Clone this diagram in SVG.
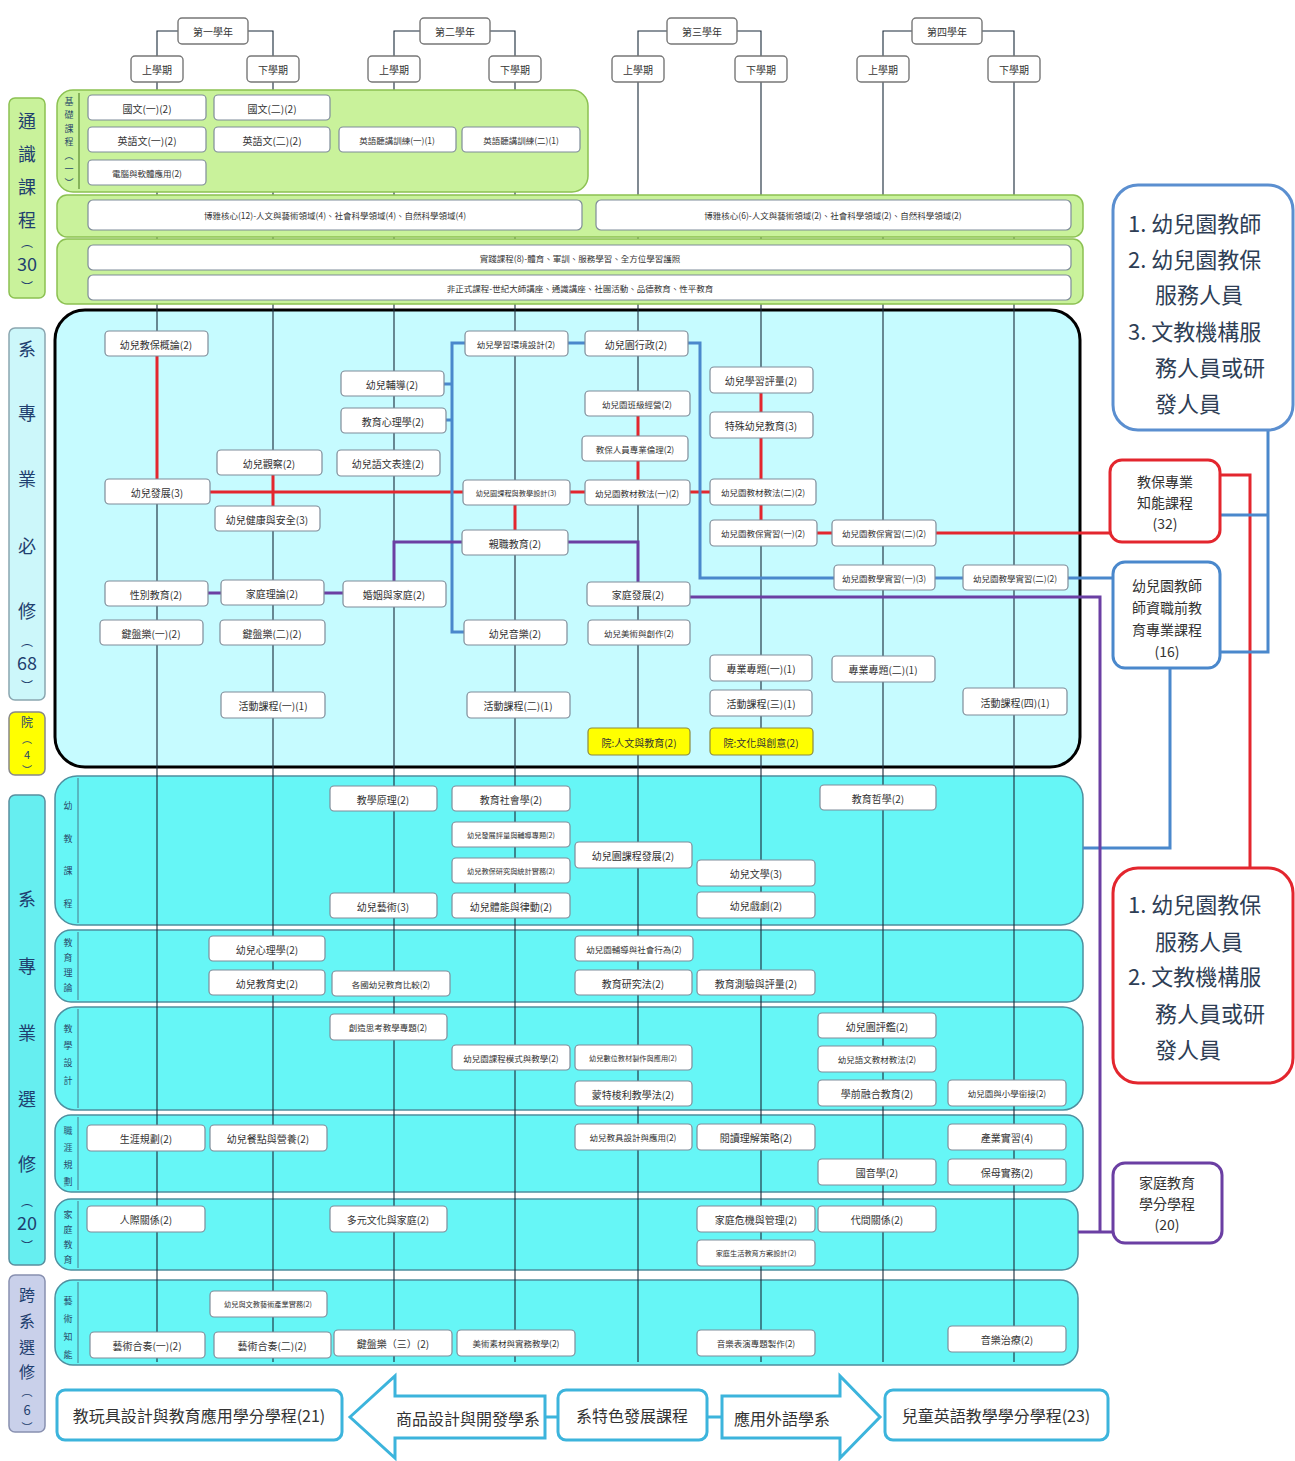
<svg xmlns="http://www.w3.org/2000/svg" width="1295" height="1461" viewBox="0 0 1295 1461">
<defs>
<style>
text{font-family:"Noto Sans CJK TC","Noto Sans CJK SC",sans-serif;fill:#333;text-anchor:middle;dominant-baseline:central}
.n rect{fill:#fff;stroke:#7f8c99;stroke-width:1.2}
.h rect{fill:#fff;stroke:#777;stroke-width:1.4}
.y rect{fill:#ffff00;stroke:#8a8a40;stroke-width:1.2}
.n text,.h text,.y text{font-size:10px}
.s{font-size:8.5px !important}
.xs{font-size:7.2px !important}
.vl{stroke:#1a2a3a;stroke-width:1.1;fill:none}
.gr{fill:#c9f29b;stroke:#8cc152;stroke-width:1.5}
.el{fill:#66f6f6;stroke:#4f8f9f;stroke-width:1.5}
.lbl{font-size:18px;fill:#1f3f6f}
.br{font-size:12px;fill:#1f3f6f}
.gl{font-size:9px;fill:#2a4a6a}
.red{stroke:#e3262e;stroke-width:3;fill:none}
.blue{stroke:#4a88cc;stroke-width:3;fill:none}
.pur{stroke:#6b3fa3;stroke-width:3;fill:none}
.big{font-size:22px;fill:#2e3e55;text-anchor:start}
.mid{font-size:14px;fill:#333}
.bt{font-size:16px;fill:#333}
.bb{fill:#fff;stroke:#3cb4dc;stroke-width:3}
</style>
</defs>
<rect width="1295" height="1461" fill="#fff"/>

<!-- left labels -->
<g id="label-general">
<rect x="9" y="98" width="36" height="200" rx="6" fill="#c9f29b" stroke="#8cc152" stroke-width="1.5"/>
<text class="lbl" x="27" y="120">通</text><text class="lbl" x="27" y="153">識</text><text class="lbl" x="27" y="186">課</text><text class="lbl" x="27" y="219">程</text><text class="br" x="27" y="241">︵</text><text class="lbl" x="27" y="263">30</text><text class="br" x="27" y="286">︶</text>
</g>
<g id="label-required">
<rect x="9" y="328" width="36" height="372" rx="6" fill="#ccf7fa" stroke="#8aa6b0" stroke-width="1.5"/>
<text class="lbl" x="27" y="348">系</text><text class="lbl" x="27" y="412">專</text><text class="lbl" x="27" y="478">業</text><text class="lbl" x="27" y="545">必</text><text class="lbl" x="27" y="610">修</text><text class="br" x="27" y="640">︵</text><text class="lbl" x="27" y="662">68</text><text class="br" x="27" y="685">︶</text>
</g>
<g id="label-college">
<rect x="9" y="712" width="36" height="63" rx="6" fill="#ffff00" stroke="#888" stroke-width="1.5"/>
<text class="lbl" style="font-size:12px" x="27" y="721">院</text><text class="br" style="font-size:10px" x="27" y="738">︵</text><text class="lbl" style="font-size:11px" x="27" y="753.5">4</text><text class="br" style="font-size:10px" x="27" y="769">︶</text>
</g>
<g id="label-elective">
<rect x="9" y="795" width="36" height="470" rx="6" fill="#66eef0" stroke="#5a8e9e" stroke-width="1.5"/>
<text class="lbl" x="27" y="898">系</text><text class="lbl" x="27" y="965">專</text><text class="lbl" x="27" y="1032">業</text><text class="lbl" x="27" y="1098">選</text><text class="lbl" x="27" y="1163">修</text><text class="br" x="27" y="1200">︵</text><text class="lbl" x="27" y="1222">20</text><text class="br" x="27" y="1245">︶</text>
</g>
<g id="label-cross">
<rect x="9" y="1275" width="36" height="157" rx="6" fill="#c9d0ea" stroke="#8890b0" stroke-width="1.5"/>
<text class="lbl" style="font-size:16px" x="27" y="1294">跨</text><text class="lbl" style="font-size:16px" x="27" y="1320">系</text><text class="lbl" style="font-size:16px" x="27" y="1346">選</text><text class="lbl" style="font-size:16px" x="27" y="1371">修</text><text class="br" style="font-size:11px" x="27" y="1391">︵</text><text class="lbl" style="font-size:13px" x="27" y="1409">6</text><text class="br" style="font-size:11px" x="27" y="1427">︶</text>
</g>

<!-- backgrounds: core and electives -->
<g id="core-box"><rect x="55" y="310" width="1025" height="457" rx="30" fill="#c6fbff" stroke="#000" stroke-width="3"/></g>
<g id="elective-groups">
<rect class="el" x="55" y="776" width="1028" height="149" rx="22"/>
<rect class="el" x="55" y="930" width="1028" height="72" rx="16"/>
<rect class="el" x="55" y="1007" width="1028" height="103" rx="20"/>
<rect class="el" x="55" y="1115" width="1028" height="77" rx="16"/>
<rect class="el" x="55" y="1199" width="1023" height="71" rx="16"/>
<rect class="el" x="55" y="1280" width="1023" height="85" rx="18"/>
<path d="M78,778V923M78,932V1000M78,1009V1108M78,1117V1190M78,1201V1268M78,1282V1363" stroke="#4f8f9f" stroke-width="1.2"/>
<text class="gl" x="68" y="805">幼</text><text class="gl" x="68" y="838">教</text><text class="gl" x="68" y="870">課</text><text class="gl" x="68" y="903">程</text>
<text class="gl" x="68" y="942">教</text><text class="gl" x="68" y="957">育</text><text class="gl" x="68" y="972">理</text><text class="gl" x="68" y="987">論</text>
<text class="gl" x="68" y="1028">教</text><text class="gl" x="68" y="1045">學</text><text class="gl" x="68" y="1062">設</text><text class="gl" x="68" y="1080">計</text>
<text class="gl" x="68" y="1130">職</text><text class="gl" x="68" y="1147">涯</text><text class="gl" x="68" y="1164">規</text><text class="gl" x="68" y="1181">劃</text>
<text class="gl" x="68" y="1214">家</text><text class="gl" x="68" y="1229">庭</text><text class="gl" x="68" y="1244">教</text><text class="gl" x="68" y="1259">育</text>
<text class="gl" x="68" y="1300">藝</text><text class="gl" x="68" y="1318">術</text><text class="gl" x="68" y="1336">知</text><text class="gl" x="68" y="1354">能</text>
</g>

<!-- timeline lines -->
<g id="timeline" class="vl">
<path d="M157,82V1362M273,82V1362M394,82V1362M515,82V1362M638,82V1362M761,82V1362M883,82V1362M1014,82V1362"/>
<path d="M178,31H157V56M248,31H273V56M420,31H394V56M490,31H515V56M667,31H638V56M737,31H761V56M912,31H883V56M982,31H1014V56"/>
</g>

<!-- general education groups -->
<g id="general-groups">
<rect class="gr" x="57" y="90" width="531" height="102" rx="16"/>
<path d="M79,93V189" stroke="#5a8a30" stroke-width="1.2"/>
<text class="gl" x="69" y="101">基</text><text class="gl" x="69" y="114.5">礎</text><text class="gl" x="69" y="128">課</text><text class="gl" x="69" y="141.5">程</text><text class="gl" x="69" y="155">︵</text><text class="gl" x="69" y="168.5">一</text><text class="gl" x="69" y="182">︶</text>
<rect class="gr" x="57" y="195" width="1026" height="42" rx="10"/>
<rect class="gr" x="57" y="239" width="1026" height="65" rx="10"/>
</g>

<!-- header nodes -->
<g id="y1" class="h"><rect x="178" y="18" width="70" height="26" rx="4"/><text x="213" y="31">第一學年</text></g>
<g id="y2" class="h"><rect x="420" y="18" width="70" height="26" rx="4"/><text x="455" y="31">第二學年</text></g>
<g id="y3" class="h"><rect x="667" y="18" width="70" height="26" rx="4"/><text x="702" y="31">第三學年</text></g>
<g id="y4" class="h"><rect x="912" y="18" width="70" height="26" rx="4"/><text x="947" y="31">第四學年</text></g>
<g id="s11" class="h"><rect x="131" y="56" width="52" height="26" rx="4"/><text x="157" y="69">上學期</text></g>
<g id="s12" class="h"><rect x="247" y="56" width="52" height="26" rx="4"/><text x="273" y="69">下學期</text></g>
<g id="s21" class="h"><rect x="368" y="56" width="52" height="26" rx="4"/><text x="394" y="69">上學期</text></g>
<g id="s22" class="h"><rect x="489" y="56" width="52" height="26" rx="4"/><text x="515" y="69">下學期</text></g>
<g id="s31" class="h"><rect x="612" y="56" width="52" height="26" rx="4"/><text x="638" y="69">上學期</text></g>
<g id="s32" class="h"><rect x="735" y="56" width="52" height="26" rx="4"/><text x="761" y="69">下學期</text></g>
<g id="s41" class="h"><rect x="857" y="56" width="52" height="26" rx="4"/><text x="883" y="69">上學期</text></g>
<g id="s42" class="h"><rect x="988" y="56" width="52" height="26" rx="4"/><text x="1014" y="69">下學期</text></g>

<!-- general nodes -->
<g id="g1" class="n"><rect x="88" y="95" width="118" height="25" rx="4"/><text x="147" y="108">國文(一)(2)</text></g>
<g id="g2" class="n"><rect x="214" y="95" width="116" height="25" rx="4"/><text x="272" y="108">國文(二)(2)</text></g>
<g id="g3" class="n"><rect x="88" y="127" width="118" height="25" rx="4"/><text x="147" y="140">英語文(一)(2)</text></g>
<g id="g4" class="n"><rect x="214" y="127" width="116" height="25" rx="4"/><text x="272" y="140">英語文(二)(2)</text></g>
<g id="g5" class="n"><rect x="339" y="127" width="117" height="25" rx="4"/><text class="s" x="397" y="140">英語聽講訓練(一)(1)</text></g>
<g id="g6" class="n"><rect x="462" y="127" width="118" height="25" rx="4"/><text class="s" x="521" y="140">英語聽講訓練(二)(1)</text></g>
<g id="g7" class="n"><rect x="88" y="160" width="118" height="25" rx="4"/><text class="s" x="147" y="173">電腦與軟體應用(2)</text></g>
<g id="g8" class="n"><rect x="88" y="200" width="494" height="30" rx="5"/><text class="s" x="335" y="215">博雅核心(12)-人文與藝術領域(4)、社會科學領域(4)、自然科學領域(4)</text></g>
<g id="g9" class="n"><rect x="596" y="200" width="475" height="30" rx="5"/><text class="s" x="833" y="215">博雅核心(6)-人文與藝術領域(2)、社會科學領域(2)、自然科學領域(2)</text></g>
<g id="g10" class="n"><rect x="88" y="245" width="983" height="25" rx="5"/><text class="s" x="580" y="258">實踐課程(8)-體育、軍訓、服務學習、全方位學習護照</text></g>
<g id="g11" class="n"><rect x="88" y="275" width="983" height="25" rx="5"/><text class="s" x="580" y="288">非正式課程-世紀大師講座、通識講座、社團活動、品德教育、性平教育</text></g>

<!-- connectors -->
<g id="connectors">
<path class="red" d="M157,356V479M210,492H463M273,475V506M570,492H585M515,505V530M638,416V436M638,461V480M690,492H710M761,393V412M761,438V479M761,505V520M817,533H832M936,533H1110M1220,475H1250V868"/>
<path class="blue" d="M465,343H452V632H464M444,384H452M446,420H452M568,343H585M688,343H700V578H834M935,578H963M1068,578H1113M1268,430V652H1220M1220,515H1268M1170,668V848H1083"/>
<path class="pur" d="M208,593H221M324,593H343M394,581V542H462M568,542H638V582M690,597H1100V1232H1113M1078,1232H1100"/>
<path d="M545,1417H558M707,1417H722" stroke="#3cb4dc" stroke-width="3"/>
</g>

<!-- core nodes -->
<g id="c1" class="n"><rect x="105" y="331" width="103" height="25" rx="4"/><text x="156" y="344">幼兒教保概論(2)</text></g>
<g id="c2" class="n"><rect x="105" y="479" width="105" height="25" rx="4"/><text x="157" y="492">幼兒發展(3)</text></g>
<g id="c3" class="n"><rect x="105" y="581" width="103" height="25" rx="4"/><text x="156" y="594">性別教育(2)</text></g>
<g id="c4" class="n"><rect x="100" y="620" width="103" height="25" rx="4"/><text x="151" y="633">鍵盤樂(一)(2)</text></g>
<g id="c5" class="n"><rect x="217" y="450" width="105" height="25" rx="4"/><text x="269" y="463">幼兒觀察(2)</text></g>
<g id="c6" class="n"><rect x="215" y="506" width="105" height="25" rx="4"/><text x="267" y="519">幼兒健康與安全(3)</text></g>
<g id="c7" class="n"><rect x="221" y="580" width="103" height="25" rx="4"/><text x="272" y="593">家庭理論(2)</text></g>
<g id="c8" class="n"><rect x="220" y="620" width="105" height="25" rx="4"/><text x="272" y="633">鍵盤樂(二)(2)</text></g>
<g id="c9" class="n"><rect x="221" y="692" width="104" height="26" rx="4"/><text x="273" y="705">活動課程(一)(1)</text></g>
<g id="c10" class="n"><rect x="341" y="371" width="103" height="25" rx="4"/><text x="392" y="384">幼兒輔導(2)</text></g>
<g id="c11" class="n"><rect x="341" y="408" width="105" height="25" rx="4"/><text x="393" y="421">教育心理學(2)</text></g>
<g id="c12" class="n"><rect x="337" y="450" width="103" height="26" rx="4"/><text x="388" y="463">幼兒語文表達(2)</text></g>
<g id="c13" class="n"><rect x="343" y="581" width="103" height="26" rx="4"/><text x="394" y="594">婚姻與家庭(2)</text></g>
<g id="c14" class="n"><rect x="465" y="331" width="103" height="25" rx="4"/><text class="s" x="516" y="344">幼兒學習環境設計(2)</text></g>
<g id="c15" class="n"><rect x="463" y="480" width="107" height="25" rx="4"/><text class="xs" x="516" y="493">幼兒園課程與教學設計(3)</text></g>
<g id="c16" class="n"><rect x="462" y="530" width="106" height="25" rx="4"/><text x="515" y="543">親職教育(2)</text></g>
<g id="c17" class="n"><rect x="464" y="620" width="103" height="25" rx="4"/><text x="515" y="633">幼兒音樂(2)</text></g>
<g id="c18" class="n"><rect x="467" y="692" width="103" height="26" rx="4"/><text x="518" y="705">活動課程(二)(1)</text></g>
<g id="c19" class="n"><rect x="585" y="331" width="103" height="25" rx="4"/><text x="636" y="344">幼兒園行政(2)</text></g>
<g id="c20" class="n"><rect x="585" y="391" width="105" height="25" rx="4"/><text class="s" x="637" y="404">幼兒園班級經營(2)</text></g>
<g id="c21" class="n"><rect x="582" y="436" width="106" height="25" rx="4"/><text class="s" x="635" y="449">教保人員專業倫理(2)</text></g>
<g id="c22" class="n"><rect x="585" y="480" width="105" height="25" rx="4"/><text class="s" x="637" y="493">幼兒園教材教法(一)(2)</text></g>
<g id="c23" class="n"><rect x="587" y="582" width="103" height="24" rx="4"/><text x="638" y="594">家庭發展(2)</text></g>
<g id="c24" class="n"><rect x="588" y="620" width="102" height="25" rx="4"/><text class="s" x="639" y="633">幼兒美術與創作(2)</text></g>
<g id="c25" class="y"><rect x="588" y="728" width="102" height="27" rx="4"/><text x="639" y="742">院:人文與教育(2)</text></g>
<g id="c26" class="n"><rect x="710" y="367" width="103" height="26" rx="4"/><text x="761" y="380">幼兒學習評量(2)</text></g>
<g id="c27" class="n"><rect x="710" y="412" width="103" height="26" rx="4"/><text x="761" y="425">特殊幼兒教育(3)</text></g>
<g id="c28" class="n"><rect x="710" y="479" width="106" height="26" rx="4"/><text class="s" x="763" y="492">幼兒園教材教法(二)(2)</text></g>
<g id="c29" class="n"><rect x="710" y="520" width="107" height="26" rx="4"/><text class="s" x="763" y="533">幼兒園教保實習(一)(2)</text></g>
<g id="c30" class="n"><rect x="710" y="655" width="102" height="26" rx="4"/><text x="761" y="668">專業專題(一)(1)</text></g>
<g id="c31" class="n"><rect x="710" y="690" width="102" height="26" rx="4"/><text x="761" y="703">活動課程(三)(1)</text></g>
<g id="c32" class="y"><rect x="710" y="728" width="103" height="27" rx="4"/><text x="761" y="742">院:文化與創意(2)</text></g>
<g id="c33" class="n"><rect x="832" y="520" width="104" height="26" rx="4"/><text class="s" x="884" y="533">幼兒園教保實習(二)(2)</text></g>
<g id="c34" class="n"><rect x="834" y="565" width="101" height="25" rx="4"/><text class="s" x="884" y="578">幼兒園教學實習(一)(3)</text></g>
<g id="c35" class="n"><rect x="832" y="656" width="103" height="26" rx="4"/><text x="883" y="669">專業專題(二)(1)</text></g>
<g id="c36" class="n"><rect x="963" y="565" width="105" height="25" rx="4"/><text class="s" x="1015" y="578">幼兒園教學實習(二)(2)</text></g>
<g id="c37" class="n"><rect x="963" y="688" width="104" height="27" rx="4"/><text x="1015" y="702">活動課程(四)(1)</text></g>

<!-- elective nodes -->
<g id="e1" class="n"><rect x="330" y="786" width="107" height="25" rx="4"/><text x="383" y="799">教學原理(2)</text></g>
<g id="e2" class="n"><rect x="452" y="786" width="118" height="25" rx="4"/><text x="511" y="799">教育社會學(2)</text></g>
<g id="e3" class="n"><rect x="820" y="785" width="116" height="25" rx="4"/><text x="878" y="798">教育哲學(2)</text></g>
<g id="e4" class="n"><rect x="452" y="822" width="118" height="25" rx="4"/><text class="xs" x="511" y="835">幼兒發展評量與輔導專題(2)</text></g>
<g id="e5" class="n"><rect x="452" y="858" width="118" height="25" rx="4"/><text class="xs" x="511" y="871">幼兒教保研究與統計實務(2)</text></g>
<g id="e6" class="n"><rect x="330" y="893" width="107" height="25" rx="4"/><text x="383" y="906">幼兒藝術(3)</text></g>
<g id="e7" class="n"><rect x="452" y="893" width="118" height="25" rx="4"/><text x="511" y="906">幼兒體能與律動(2)</text></g>
<g id="e8" class="n"><rect x="575" y="842" width="117" height="26" rx="4"/><text x="633" y="855">幼兒園課程發展(2)</text></g>
<g id="e9" class="n"><rect x="697" y="860" width="118" height="26" rx="4"/><text x="756" y="873">幼兒文學(3)</text></g>
<g id="e10" class="n"><rect x="697" y="892" width="118" height="26" rx="4"/><text x="756" y="905">幼兒戲劇(2)</text></g>
<g id="e11" class="n"><rect x="209" y="936" width="116" height="25" rx="4"/><text x="267" y="949">幼兒心理學(2)</text></g>
<g id="e12" class="n"><rect x="209" y="970" width="116" height="25" rx="4"/><text x="267" y="983">幼兒教育史(2)</text></g>
<g id="e13" class="n"><rect x="332" y="971" width="118" height="25" rx="4"/><text class="s" x="391" y="984">各國幼兒教育比較(2)</text></g>
<g id="e14" class="n"><rect x="575" y="936" width="118" height="25" rx="4"/><text class="s" x="634" y="949">幼兒園輔導與社會行為(2)</text></g>
<g id="e15" class="n"><rect x="575" y="970" width="117" height="25" rx="4"/><text x="633" y="983">教育研究法(2)</text></g>
<g id="e16" class="n"><rect x="697" y="970" width="118" height="25" rx="4"/><text x="756" y="983">教育測驗與評量(2)</text></g>
<g id="e17" class="n"><rect x="330" y="1014" width="117" height="26" rx="4"/><text class="s" x="388" y="1027">創造思考教學專題(2)</text></g>
<g id="e18" class="n"><rect x="452" y="1045" width="118" height="25" rx="4"/><text class="s" x="511" y="1058">幼兒園課程模式與教學(2)</text></g>
<g id="e19" class="n"><rect x="575" y="1045" width="117" height="25" rx="4"/><text class="xs" x="633" y="1058">幼兒數位教材製作與應用(2)</text></g>
<g id="e20" class="n"><rect x="575" y="1081" width="117" height="25" rx="4"/><text x="633" y="1094">蒙特梭利教學法(2)</text></g>
<g id="e21" class="n"><rect x="818" y="1013" width="118" height="25" rx="4"/><text x="877" y="1026">幼兒園評鑑(2)</text></g>
<g id="e22" class="n"><rect x="818" y="1046" width="118" height="26" rx="4"/><text class="s" x="877" y="1059">幼兒語文教材教法(2)</text></g>
<g id="e23" class="n"><rect x="818" y="1080" width="118" height="26" rx="4"/><text x="877" y="1093">學前融合教育(2)</text></g>
<g id="e24" class="n"><rect x="948" y="1080" width="118" height="26" rx="4"/><text class="s" x="1007" y="1093">幼兒園與小學銜接(2)</text></g>
<g id="e25" class="n"><rect x="87" y="1125" width="118" height="26" rx="4"/><text x="146" y="1138">生涯規劃(2)</text></g>
<g id="e26" class="n"><rect x="210" y="1125" width="117" height="26" rx="4"/><text x="268" y="1138">幼兒餐點與營養(2)</text></g>
<g id="e27" class="n"><rect x="575" y="1124" width="117" height="26" rx="4"/><text class="s" x="633" y="1137">幼兒教具設計與應用(2)</text></g>
<g id="e28" class="n"><rect x="697" y="1124" width="118" height="26" rx="4"/><text x="756" y="1137">閱讀理解策略(2)</text></g>
<g id="e29" class="n"><rect x="948" y="1124" width="118" height="26" rx="4"/><text x="1007" y="1137">產業實習(4)</text></g>
<g id="e30" class="n"><rect x="818" y="1159" width="118" height="26" rx="4"/><text x="877" y="1172">國音學(2)</text></g>
<g id="e31" class="n"><rect x="948" y="1159" width="118" height="26" rx="4"/><text x="1007" y="1172">保母實務(2)</text></g>
<g id="e32" class="n"><rect x="87" y="1206" width="118" height="26" rx="4"/><text x="146" y="1219">人際關係(2)</text></g>
<g id="e33" class="n"><rect x="330" y="1206" width="117" height="26" rx="4"/><text x="388" y="1219">多元文化與家庭(2)</text></g>
<g id="e34" class="n"><rect x="697" y="1206" width="118" height="26" rx="4"/><text x="756" y="1219">家庭危機與管理(2)</text></g>
<g id="e35" class="n"><rect x="818" y="1206" width="118" height="26" rx="4"/><text x="877" y="1219">代間關係(2)</text></g>
<g id="e36" class="n"><rect x="697" y="1240" width="118" height="26" rx="4"/><text class="xs" x="756" y="1253">家庭生活教育方案設計(2)</text></g>
<g id="e37" class="n"><rect x="210" y="1291" width="117" height="26" rx="4"/><text class="xs" x="268" y="1304">幼兒與文教藝術產業實務(2)</text></g>
<g id="e38" class="n"><rect x="90" y="1332" width="115" height="26" rx="4"/><text x="147" y="1345">藝術合奏(一)(2)</text></g>
<g id="e39" class="n"><rect x="214" y="1332" width="117" height="26" rx="4"/><text x="272" y="1345">藝術合奏(二)(2)</text></g>
<g id="e40" class="n"><rect x="334" y="1330" width="118" height="26" rx="4"/><text x="393" y="1343">鍵盤樂（三）(2)</text></g>
<g id="e41" class="n"><rect x="457" y="1330" width="118" height="26" rx="4"/><text class="s" x="516" y="1343">美術素材與實務教學(2)</text></g>
<g id="e42" class="n"><rect x="697" y="1330" width="118" height="26" rx="4"/><text class="s" x="756" y="1343">音樂表演專題製作(2)</text></g>
<g id="e43" class="n"><rect x="948" y="1326" width="118" height="26" rx="4"/><text x="1007" y="1339">音樂治療(2)</text></g>

<!-- right side outcome boxes -->
<g id="career-teacher">
<rect x="1113" y="185" width="180" height="245" rx="25" fill="#fff" stroke="#5b8fd0" stroke-width="3"/>
<text class="big" x="1128" y="222">1. 幼兒園教師</text>
<text class="big" x="1128" y="258">2. 幼兒園教保</text>
<text class="big" x="1155" y="293">服務人員</text>
<text class="big" x="1128" y="330">3. 文教機構服</text>
<text class="big" x="1155" y="366">務人員或研</text>
<text class="big" x="1155" y="402">發人員</text>
</g>
<g id="prog-care">
<rect x="1110" y="460" width="110" height="82" rx="12" fill="#fff" stroke="#e3262e" stroke-width="3"/>
<text class="mid" x="1165" y="481">教保專業</text><text class="mid" x="1165" y="502">知能課程</text><text class="mid" x="1165" y="523">(32)</text>
</g>
<g id="prog-teacher">
<rect x="1113" y="562" width="107" height="106" rx="12" fill="#fff" stroke="#4a88cc" stroke-width="3"/>
<text class="mid" x="1167" y="585">幼兒園教師</text><text class="mid" x="1167" y="607">師資職前教</text><text class="mid" x="1167" y="629">育專業課程</text><text class="mid" x="1167" y="651">(16)</text>
</g>
<g id="career-care">
<rect x="1113" y="868" width="180" height="215" rx="25" fill="#fff" stroke="#e3262e" stroke-width="3"/>
<text class="big" x="1128" y="903">1. 幼兒園教保</text>
<text class="big" x="1155" y="940">服務人員</text>
<text class="big" x="1128" y="975">2. 文教機構服</text>
<text class="big" x="1155" y="1012">務人員或研</text>
<text class="big" x="1155" y="1048">發人員</text>
</g>
<g id="prog-family">
<rect x="1113" y="1163" width="109" height="80" rx="12" fill="#fff" stroke="#6b3fa3" stroke-width="3"/>
<text class="mid" x="1167" y="1182">家庭教育</text><text class="mid" x="1167" y="1203">學分學程</text><text class="mid" x="1167" y="1224">(20)</text>
</g>

<!-- bottom row -->
<g id="prog-toys"><rect class="bb" x="57" y="1390" width="285" height="50" rx="8"/><text class="bt" x="199" y="1415">教玩具設計與教育應用學分學程(21)</text></g>
<g id="dept-product"><polygon class="bb" points="350,1417 395,1376 395,1396 545,1396 545,1438 395,1438 395,1458"/><text class="bt" x="468" y="1418">商品設計與開發學系</text></g>
<g id="dept-feature"><rect class="bb" x="558" y="1390" width="149" height="50" rx="8"/><text class="bt" x="632" y="1415">系特色發展課程</text></g>
<g id="dept-lang"><polygon class="bb" points="722,1396 840,1396 840,1376 880,1417 840,1458 840,1438 722,1438"/><text class="bt" x="782" y="1418">應用外語學系</text></g>
<g id="prog-english"><rect class="bb" x="885" y="1390" width="223" height="50" rx="8"/><text class="bt" x="996" y="1415">兒童英語教學學分學程(23)</text></g>
</svg>
